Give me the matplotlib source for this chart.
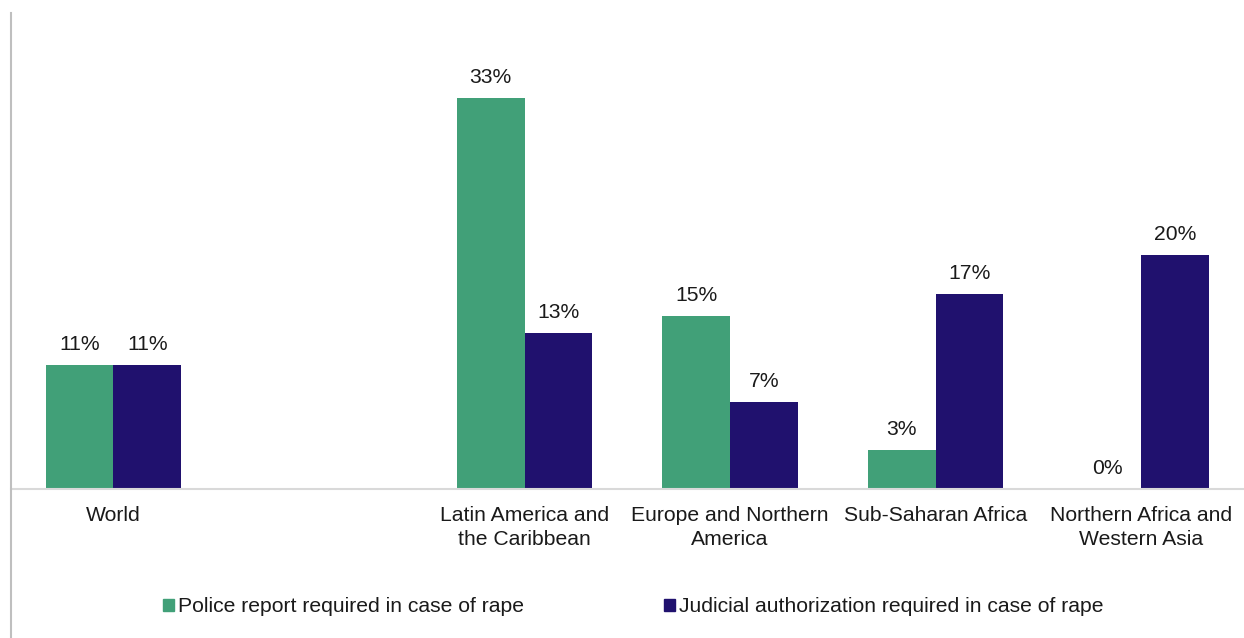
import numpy as np
import matplotlib.pyplot as plt
from matplotlib.patches import Patch
from matplotlib.lines import Line2D

plt.rcParams['font.family'] = ['Liberation Sans', 'DejaVu Sans']

categories = ["World", "", "Latin America and\nthe Caribbean", "Europe and Northern\nAmerica",
              "Sub-Saharan Africa", "Northern Africa and\nWestern Asia"]
police = [10.6, np.nan, 33.4, 14.8, 3.3, 0.0]
judicial = [10.6, np.nan, 13.3, 7.4, 16.7, 20.0]
series_names = ["Police report required in case of rape",
                "Judicial authorization required in case of rape"]

green = "#41A078"
navy = "#20116E"
txt = "#1a1a1a"
fs = 15.2

fig = plt.figure(figsize=(12.44, 6.38), dpi=100)
ax = fig.add_axes([0.0085, 0.2335, 0.9915, 0.746])

x = np.arange(len(categories))
w = 0.33
b1 = ax.bar(x - w/2, police, w, color=green)
b2 = ax.bar(x + w/2, judicial, w, color=navy)

for bars, vals in [(b1, police), (b2, judicial)]:
    for rect, v in zip(bars, vals):
        if np.isnan(v):
            continue
        ax.annotate(f"{v:.0f}%", (rect.get_x() + rect.get_width()/2, v),
                    xytext=(0, 8), textcoords="offset points",
                    ha="center", va="bottom", fontsize=fs, color=txt)

ax.set_xlim(-0.5, 5.5)
ax.set_ylim(0, 40.7)
ax.set_yticks([])
ax.set_xticks(x)
ax.set_xticklabels(categories, fontsize=fs, color=txt, linespacing=1.32)
ax.tick_params(axis="x", length=0, pad=12.5)
for s in ["top", "right", "left"]:
    ax.spines[s].set_visible(False)
ax.spines["bottom"].set_color("#d9d9d9")
ax.spines["bottom"].set_linewidth(1.5)

# border line on the left of the chart area
fig.add_artist(Line2D([0.0085, 0.0085], [0, 0.98], color="#bfbfbf", lw=1.5,
                      transform=fig.transFigure))

handles = [Patch(color=green), Patch(color=navy)]
fig.legend(handles, series_names, loc="center left", bbox_to_anchor=(0.131, 0.049),
           ncol=2, frameon=False, fontsize=fs, handlelength=0.53, handleheight=0.53,
           handletextpad=0.2, columnspacing=6.6, borderpad=0, borderaxespad=0,
           labelcolor=txt)

fig.savefig("out.png", dpi=100)
